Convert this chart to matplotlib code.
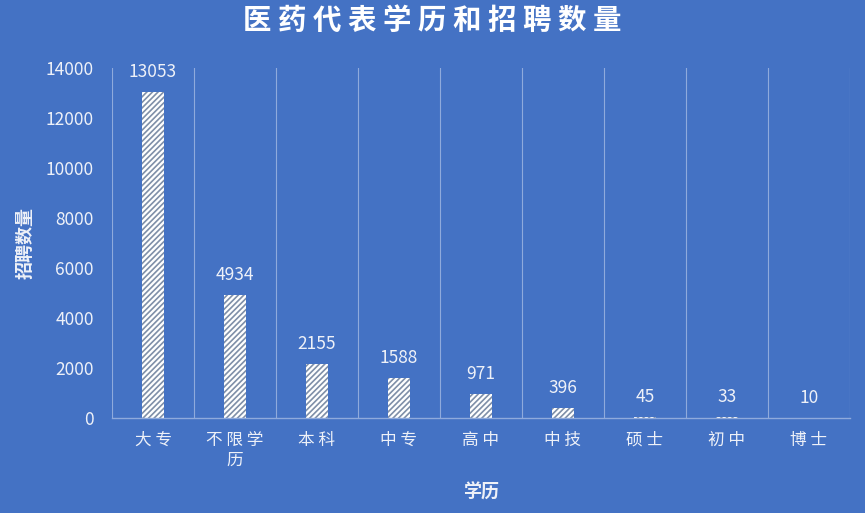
import matplotlib.pyplot as plt
import numpy as np

plt.rcParams['font.family'] = ['Noto Sans CJK SC', 'DejaVu Sans']

categories = ['大 专', '不 限 学\n历', '本 科', '中 专', '高 中', '中 技', '硕 士', '初 中', '博 士']
counts = [13053, 4934, 2155, 1588, 971, 396, 45, 33, 10]
yticks = [0, 2000, 4000, 6000, 8000, 10000, 12000, 14000]

bg = '#4472C4'
txt = '#EEF1F8'
grid = '#8FAADC'

fig = plt.figure(figsize=(8.65, 5.13), dpi=100, facecolor=bg)
ax = fig.add_axes([0.1295, 0.185, 0.853, 0.6825], facecolor=bg)

x = np.arange(len(categories))
plt.rcParams['hatch.linewidth'] = 1.2
bars = ax.bar(x, counts, width=0.27, color='white', edgecolor='#7F8FA8',
              hatch='//////', linewidth=0)

for xi, v in zip(x, counts):
    ax.annotate(str(v), (xi, v), xytext=(0, 8), textcoords='offset points',
                ha='center', va='bottom', fontsize=12.5, color=txt)

ax.set_xlim(-0.5, len(categories) - 0.5)
ax.set_ylim(0, 14000)
ax.set_yticks(yticks)
ax.set_yticklabels([str(t) for t in yticks], fontsize=12.5, color=txt)
ax.set_xticks(x)
ax.set_xticklabels(categories, fontsize=12, color=txt, linespacing=1.25)
ax.tick_params(axis='x', length=0, pad=10)
ax.tick_params(axis='y', length=0, pad=13)

for b in np.arange(-0.5, len(categories), 1.0):
    ax.axvline(b, color=grid, linewidth=0.8, zorder=0)

for s in ['top', 'right', 'left']:
    ax.spines[s].set_visible(False)
ax.spines['bottom'].set_color(grid)
ax.spines['bottom'].set_linewidth(1)

fig.text(0.5, 0.959, ' '.join('医药代表学历和招聘数量'), ha='center', va='center',
         fontsize=20.5, fontweight='bold', color='white')
ax.set_ylabel('招聘数量', fontsize=13, fontweight='bold', color=txt, labelpad=8)
ax.set_xlabel('学历', fontsize=13, fontweight='bold', color=txt, labelpad=10)

fig.savefig('out.png', dpi=100, facecolor=bg)
